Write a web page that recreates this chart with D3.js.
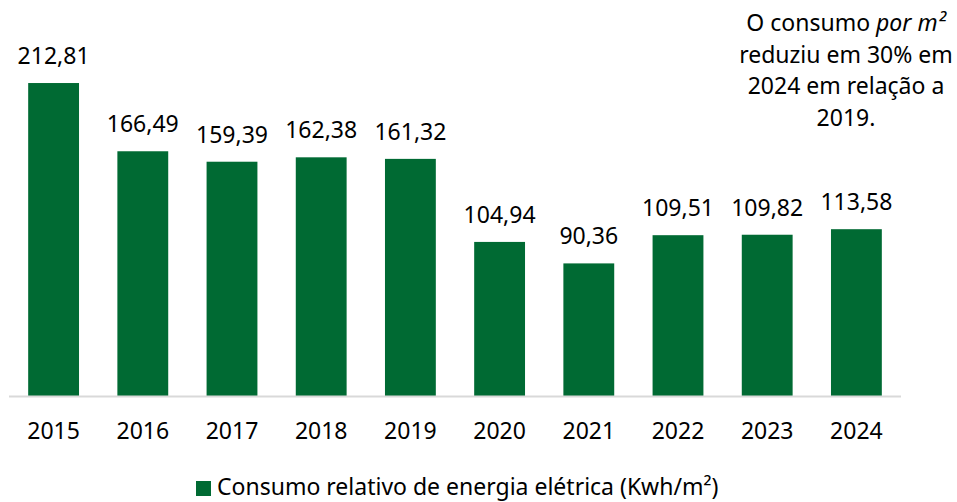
<!doctype html>
<html>
<head>
  <meta charset="UTF-8" />
  <title>Consumo relativo de energia elétrica</title>
  <script src="https://cdn.jsdelivr.net/npm/d3@7"></script>
  <style>
    body { margin: 0; background: #fff; }
    text { font-family: "Noto Sans", sans-serif; fill: #000; }
  </style>
</head>
<body>
<div id="chart"></div>
<script>
  // data
  var years = ["2015", "2016", "2017", "2018", "2019", "2020", "2021", "2022", "2023", "2024"];
  var consumo = [212.81, 166.49, 159.39, 162.38, 161.32, 104.94, 90.36, 109.51, 109.82, 113.58];
  var seriesName = "Consumo relativo de energia elétrica (Kwh/m²)";
  var noteLines = ["O consumo |por m²", "reduziu em 30% em", "2024 em relação a", "2019."];

  var W = 957, H = 502;
  var green = "#006a33";
  var fs = 23;

  var svg = d3.select("#chart").append("svg")
      .attr("width", W).attr("height", H);

  var x = d3.scaleBand()
      .domain(years)
      .range([9, 901])
      .paddingInner(0.43)
      .paddingOuter(0.215);

  var y = d3.scaleLinear()
      .domain([0, 250])
      .range([396.5, 28.25]);

  var fmt = function(v) { return d3.format(".2f")(v).replace(".", ","); };

  // bars
  svg.selectAll("rect.bar")
      .data(consumo)
      .enter().append("rect")
      .attr("class", "bar")
      .attr("x", function(d, i) { return x(years[i]); })
      .attr("y", function(d) { return y(d); })
      .attr("width", x.bandwidth())
      .attr("height", function(d) { return y(0) - y(d); })
      .attr("fill", green);

  // value labels
  svg.selectAll("text.val")
      .data(consumo)
      .enter().append("text")
      .attr("class", "val")
      .attr("x", function(d, i) { return x(years[i]) + x.bandwidth() / 2; })
      .attr("y", function(d) { return y(d) - 19; })
      .attr("text-anchor", "middle")
      .style("font-size", fs + "px")
      .text(function(d) { return fmt(d); });

  // x axis
  var xAxis = svg.append("g")
      .attr("transform", "translate(0," + y(0) + ")")
      .call(d3.axisBottom(x).tickSize(0).tickPadding(26));
  xAxis.select(".domain").attr("stroke", "#d9d9d9").attr("stroke-width", 2)
      .attr("d", "M9,0H901");
  xAxis.selectAll("text")
      .style("font-size", fs + "px")
      .attr("fill", "#000")
      .style("font-family", "'Noto Sans', sans-serif");

  // annotation
  var note = svg.append("text")
      .attr("text-anchor", "middle")
      .style("font-size", fs + "px");
  noteLines.forEach(function(line, i) {
    var parts = line.split("|");
    note.append("tspan")
        .attr("x", 846)
        .attr("y", 31 + i * 31.7)
        .text(parts[0]);
    if (parts.length > 1) {
      note.append("tspan").style("font-style", "italic").text(parts[1]);
    }
  });

  // legend
  var leg = svg.append("g");
  leg.append("rect")
      .attr("x", 196).attr("y", 481)
      .attr("width", 15).attr("height", 15)
      .attr("fill", green);
  leg.append("text")
      .attr("x", 217).attr("y", 495)
      .style("font-size", fs + "px")
      .text(seriesName);
</script>
</body>
</html>
